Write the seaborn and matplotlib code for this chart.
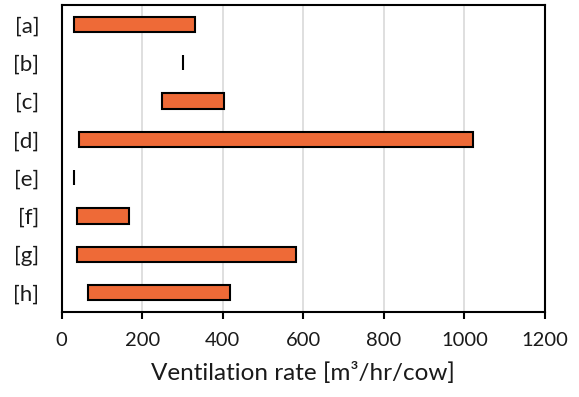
import matplotlib
matplotlib.use("Agg")
import matplotlib.pyplot as plt
import seaborn as sns
import pandas as pd

# Reported ventilation-rate ranges per study
studies = ["[a]", "[b]", "[c]", "[d]", "[e]", "[f]", "[g]", "[h]"]
rate_min = [30, 300, 250, 42, 30, 38, 38, 66]
rate_max = [332, 300, 402, 1022, 30, 168, 581, 418]

df = pd.DataFrame({"study": studies, "low": rate_min, "high": rate_max})
df["span"] = df["high"] - df["low"]

sns.set_theme(style="white")
plt.rcParams["font.family"] = ["Lato", "DejaVu Sans"]

fig = plt.figure(figsize=(5.79, 3.97), dpi=100)
ax = fig.add_axes([0.1066, 0.215, 0.8345, 0.772])

sns.barplot(data=df, y="study", x="span", left=df["low"].to_numpy(),
            color="#EE6A37", saturation=1, width=0.4,
            edgecolor="black", linewidth=1.5, ax=ax)

ax.set_xlim(0, 1200)
ax.set_xticks(range(0, 1201, 200))
ax.xaxis.grid(True, color="#D9D9D9", linewidth=1.2)
ax.set_axisbelow(True)
for s in ax.spines.values():
    s.set_visible(True)
    s.set_color("black")
    s.set_linewidth(1.5)

ax.tick_params(axis="x", which="major", bottom=True, length=5, width=1.5,
               color="black", labelsize=14.5, pad=10, labelcolor="#1a1a1a")
ax.tick_params(axis="y", left=False, labelsize=16, pad=10, labelcolor="#1a1a1a")
ax.set_ylabel("")
ax.set_xlabel("Ventilation rate [m³/hr/cow]", fontsize=17.5, labelpad=9,
              color="#1a1a1a")

fig.savefig("out.png", dpi=100)
